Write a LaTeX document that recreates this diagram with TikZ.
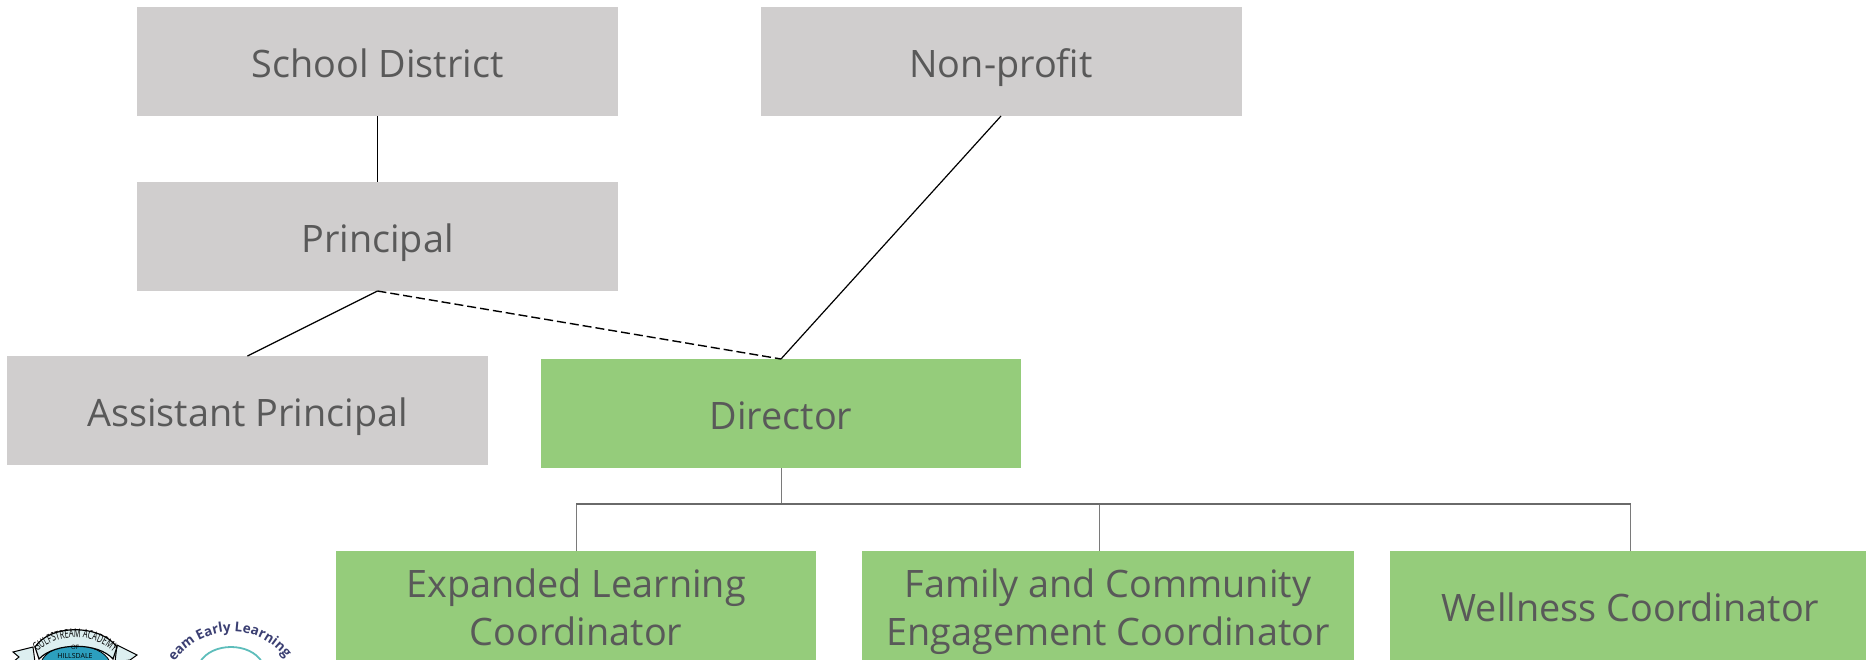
\documentclass[tikz,border=0pt]{standalone}
\usepackage{fontspec}
\setmainfont{Open Sans}
\usetikzlibrary{decorations.text}
\definecolor{boxgrey}{HTML}{D0CECE}
\definecolor{boxgreen}{HTML}{95CC7B}
\definecolor{txt}{HTML}{595959}
\definecolor{bus}{HTML}{6A6A6A}
\definecolor{drop}{HTML}{7A7A7A}
\definecolor{teal1}{HTML}{2C9FBE}
\definecolor{ribbon}{HTML}{DDEFF0}
\definecolor{navy}{HTML}{3B3F72}
\definecolor{arcteal}{HTML}{5DBDBB}
\newcommand{\lineone}[1]{\rule{0pt}{31pt}\smash{#1}}
\newcommand{\linetwo}[1]{\smash{#1}}
\tikzset{
  x=1pt,y=-1pt,
  orgbox/.style={minimum height=109pt,inner sep=0pt,outer sep=0pt,align=center,text=txt,
    font=\fontsize{37.8}{48}\selectfont},
  greybox/.style={orgbox,fill=boxgrey,minimum width=481pt},
  greenbox/.style={orgbox,fill=boxgreen,minimum width=480pt},
  link/.style={black,line width=1.2pt},
  buslink/.style={bus,line width=1.2pt},
  droplink/.style={drop,line width=1pt},
}
\begin{document}
\begin{tikzpicture}
\useasboundingbox (0,0) rectangle (1866,659);
\clip (0,0) rectangle (1866,659);
\node[greybox] (sd) at (377.5,61.5) {\lineone{School District}};
\node[greybox] (np) at (1001,61.5) {\lineone{Non-profit}};
\node[greybox] (pr) at (377.5,236.5) {\lineone{Principal}};
\node[greybox] (ap) at (247.5,410.5) {\lineone{Assistant Principal}};
\node[greenbox] (di) at (781,413.5) {\lineone{Director}};
\node[greenbox] (ex) at (576,605.5) {\lineone{Expanded Learning}\\\linetwo{Coordinator}};
\node[greenbox,minimum width=492pt] (fa) at (1108,605.5) {\lineone{Family and Community}\\\linetwo{Engagement Coordinator}};
\node[greenbox,minimum width=481pt] (we) at (1630.5,605.5) {\lineone{Wellness Coordinator}};
\coordinate (busy) at (0,504);
\coordinate (famdrop) at (1099,551);
\draw[link] (sd.south) -- (pr.north);
\draw[link] (pr.south) -- (ap.north);
\draw[link,line width=1.4pt,dash pattern=on 9pt off 4pt] (pr.south) -- (di.north);
\draw[link] (np.south) -- (di.north);
\draw[droplink] (di.south) -- (di.south |- busy);
\draw[droplink] (ex.north) -- (ex.north |- busy);
\draw[droplink] (we.north) -- (we.north |- busy);
\draw[droplink] (famdrop |- busy) -- (famdrop);
\draw[buslink] (ex.north |- busy) -- (we.north |- busy);
% left crest
\fill[ribbon,draw=black,line width=1pt] (33,647) -- (13,652) -- (19,657) -- (13,662) -- (35,662) -- cycle;
\fill[ribbon,draw=black,line width=1pt] (117,645) -- (137,655) -- (130,660) -- (115,662) -- cycle;
\fill[teal1,draw=black,line width=.8pt] (41,662) .. controls (50,640) and (100,640) .. (110,662) -- cycle;
\fill[ribbon,draw=black,line width=1.2pt] (35,647) .. controls (50,624) and (100,624) .. (117,647)
  -- (113,659) .. controls (98,642) and (55,642) .. (39,659) -- cycle;
\path[decorate,decoration={text along path,text align=center,
  text={|\fontsize{12}{12}\selectfont\addfontfeatures{FakeStretch=.62}\color{black}|GULFSTREAM ACADEMY}}]
  (31,660) .. controls (50,630) and (100,630) .. (120,660);
\node[inner sep=0pt,font=\fontsize{6}{6}\selectfont,text=black] (of) at (75,647.5) {OF};
\node[inner sep=0pt,font=\fontsize{7}{7}\selectfont,text=black] (hd) at (75,655.5) {HILLSDALE};
% right seal
\path[decorate,decoration={text along path,text align=center,
  text={|\fontsize{13.5}{13.5}\selectfont\bfseries\color{navy}|eam Early Learning}}]
  (168,672) .. controls (197,619) and (265,619) .. (292,668);
\draw[arcteal,line width=1.8pt] (200,662) .. controls (212,642) and (250,642) .. (262,662);
\end{tikzpicture}
\end{document}
